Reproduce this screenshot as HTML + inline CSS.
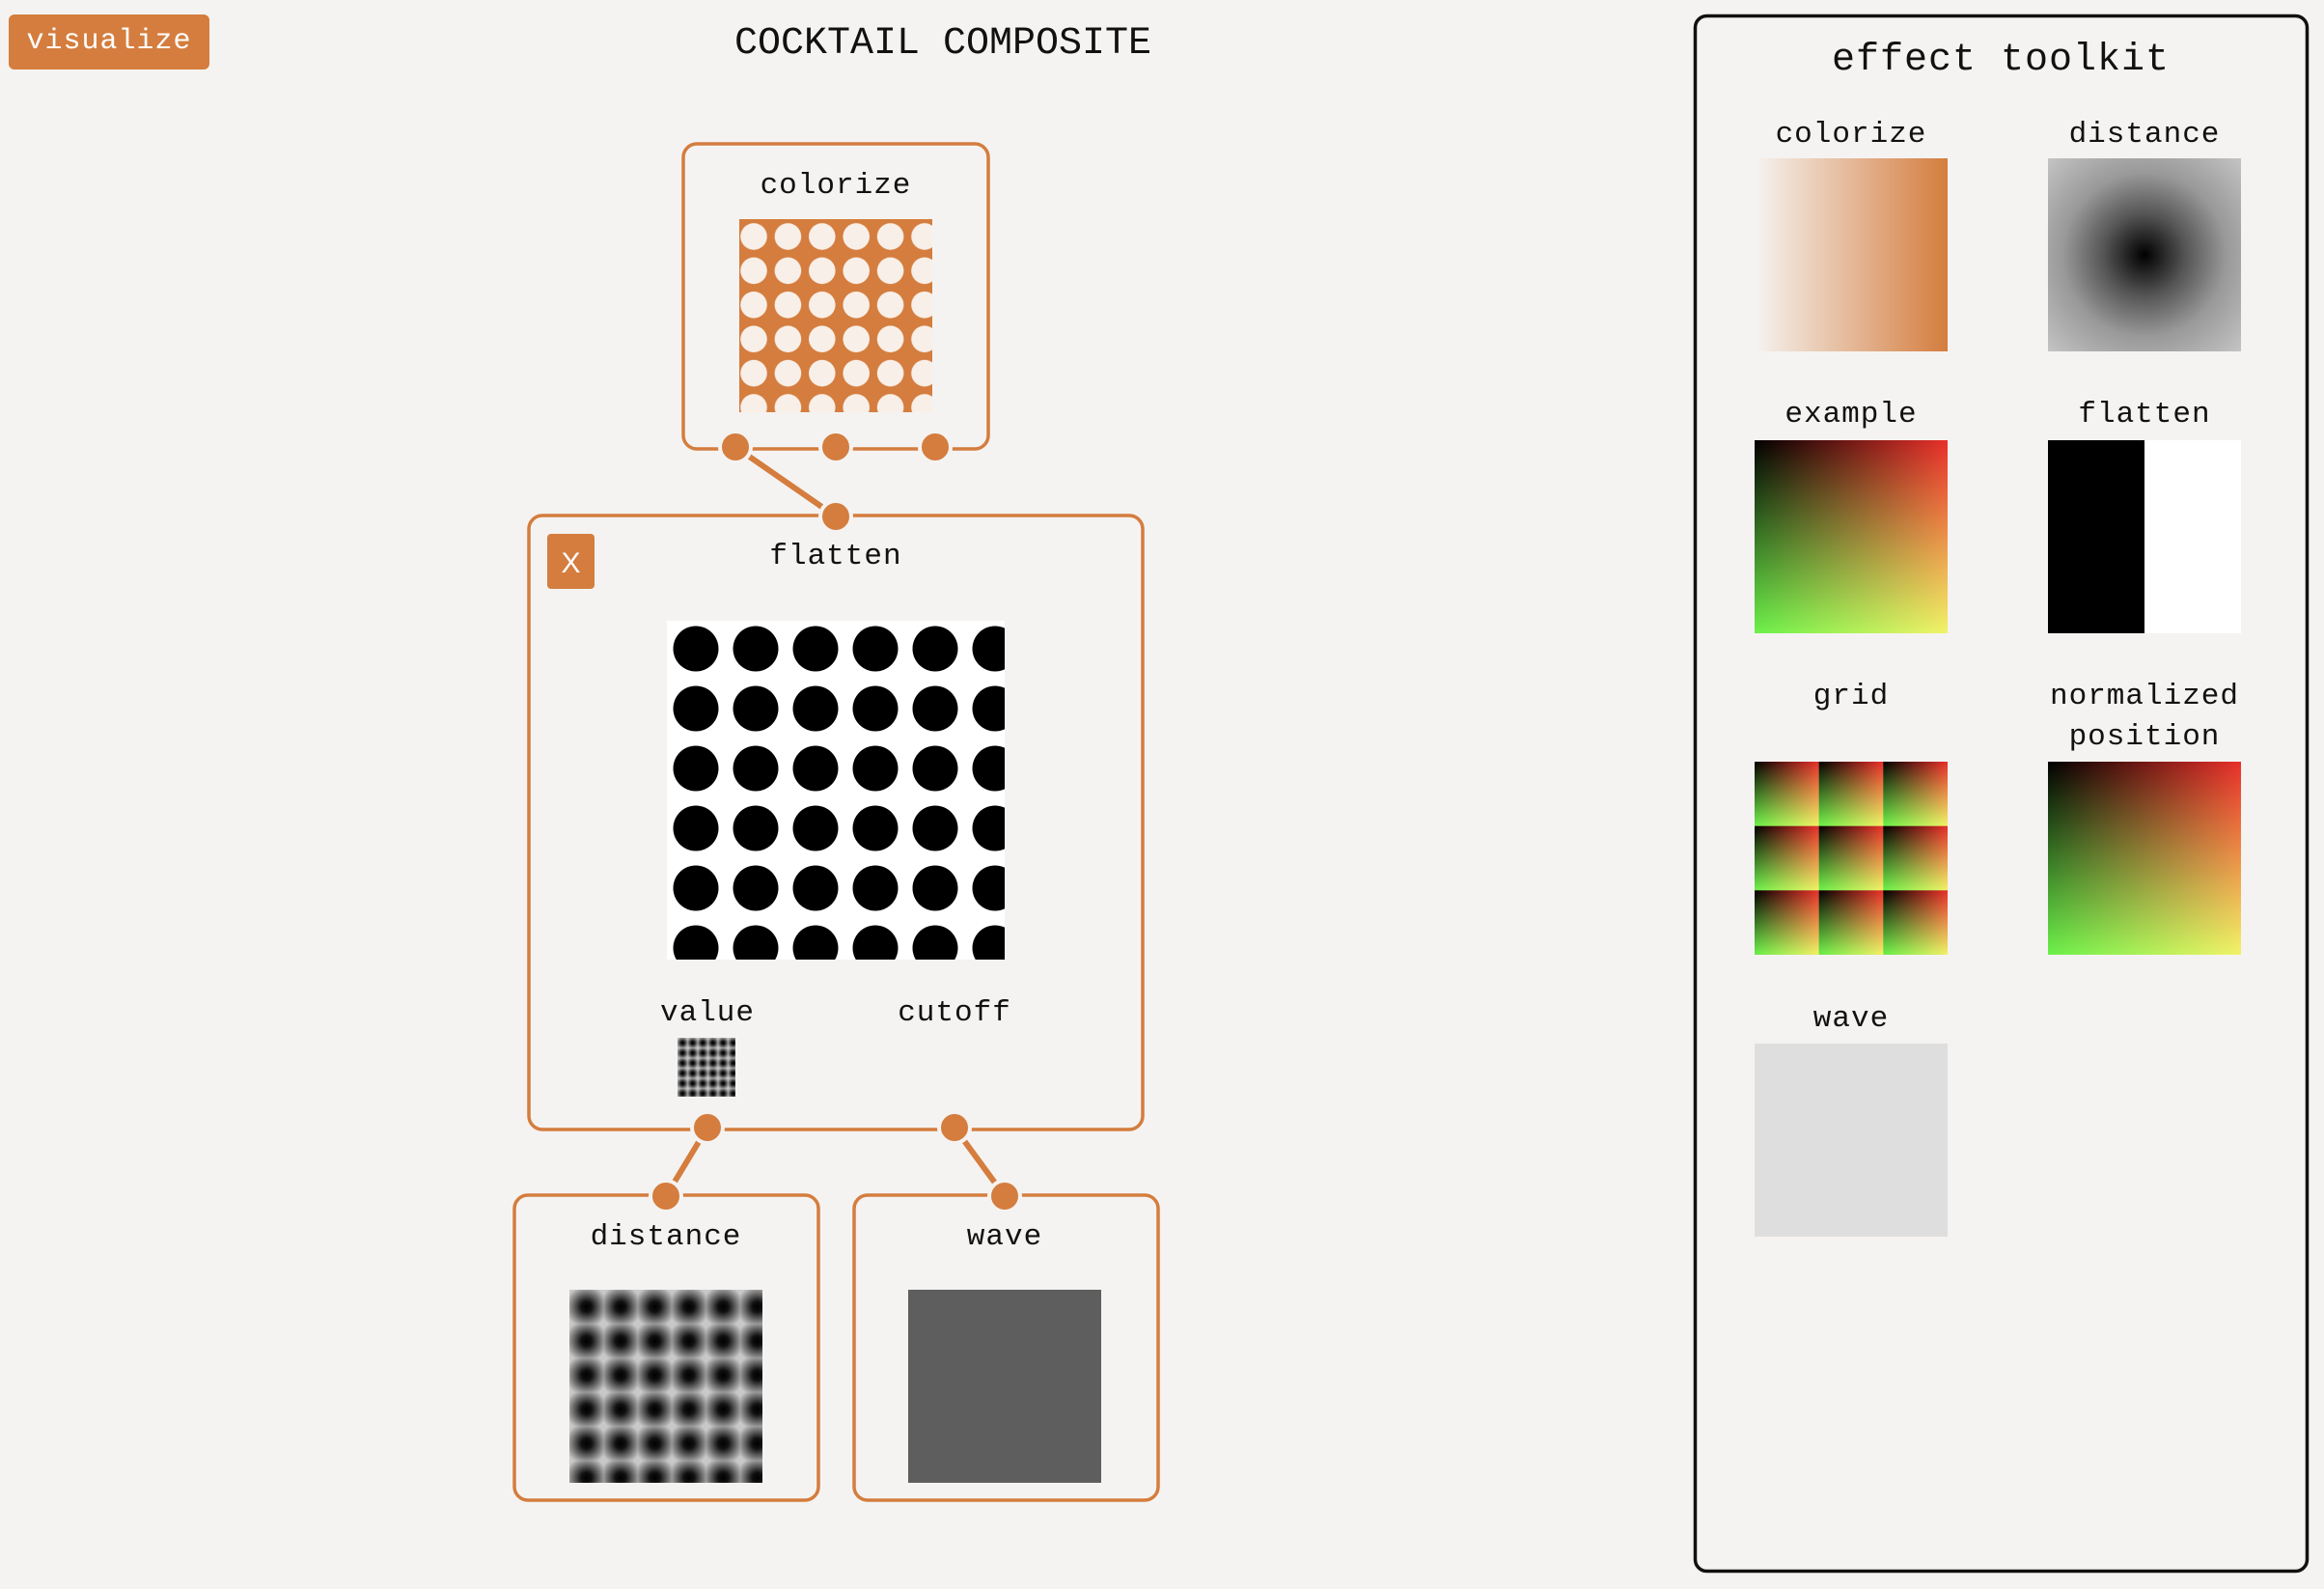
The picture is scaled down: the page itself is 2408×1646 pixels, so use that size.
<!DOCTYPE html>
<html><head><meta charset="utf-8"><style>
html,body{margin:0;padding:0;}
body{width:2408px;height:1646px;background:#f5f3f1;position:relative;overflow:hidden;font-family:"Liberation Mono","DejaVu Sans Mono",monospace;color:#111;}
.a{position:absolute;}
.lbl{position:absolute;font-size:31px;letter-spacing:1px;text-align:center;width:400px;margin-left:-200px;line-height:42px;}
.ex{background:linear-gradient(to right,#000,#e8302a),linear-gradient(to bottom,#000,#6cf04a);background-blend-mode:screen;}
</style></head><body>
<div class="a" style="left:9px;top:15px;width:208px;height:57px;background:#d47d3e;border-radius:6px;color:#fff;font-size:30px;line-height:57px;text-align:center;letter-spacing:1px;">visualize</div>
<div class="a" style="left:677px;top:21px;width:600px;text-align:center;font-size:40px;line-height:50px;">COCKTAIL COMPOSITE</div>

<svg class="a" style="left:0;top:0" width="2408" height="1646" viewBox="0 0 2408 1646">
<defs>
<pattern id="pc" patternUnits="userSpaceOnUse" x="763.3" y="227.3" width="35.4" height="35.4"><circle cx="17.7" cy="17.7" r="13.8" fill="#f8efe8"/></pattern>
<pattern id="pf" patternUnits="userSpaceOnUse" x="690" y="641" width="62" height="62"><circle cx="31" cy="31" r="23.5" fill="#000"/></pattern>
<radialGradient id="rg"><stop offset="0" stop-color="#000"/><stop offset="0.25" stop-color="#111"/><stop offset="1" stop-color="#c8c8c8"/></radialGradient>
<pattern id="pd" patternUnits="userSpaceOnUse" x="590" y="1336" width="35.4" height="35.4"><rect width="35.4" height="35.4" fill="#c8c8c8"/><circle cx="17.7" cy="17.7" r="22" fill="url(#rg)"/></pattern>
<pattern id="pv" patternUnits="userSpaceOnUse" x="702" y="1075" width="10.5" height="10.5"><rect width="10.5" height="10.5" fill="#bbb"/><circle cx="5.25" cy="5.25" r="6.5" fill="url(#rg)"/></pattern>
</defs>
<g fill="none" stroke="#d47d3e" stroke-width="3.5">
<rect x="708" y="149" width="316" height="316" rx="14"/>
<rect x="548" y="534" width="636" height="636" rx="14"/>
<rect x="533" y="1238" width="315" height="316" rx="14"/>
<rect x="885" y="1238" width="315" height="316" rx="14"/>
</g>
<g stroke="#d47d3e" stroke-width="6" stroke-linecap="round">
<line x1="762" y1="463" x2="866" y2="535"/>
<line x1="733" y1="1168" x2="690" y2="1239"/>
<line x1="989" y1="1168" x2="1041" y2="1239"/>
</g>
<g fill="#d47d3e" stroke="#f5f3f1" stroke-width="4">
<circle cx="762" cy="463" r="16"/><circle cx="866" cy="463" r="16"/><circle cx="969" cy="463" r="16"/>
<circle cx="866" cy="535" r="16"/>
<circle cx="733" cy="1168" r="16"/><circle cx="989" cy="1168" r="16"/>
<circle cx="690" cy="1239" r="16"/><circle cx="1041" cy="1239" r="16"/>
</g>
<rect x="766" y="227" width="200" height="200" fill="#d47d3e"/>
<rect x="766" y="227" width="200" height="200" fill="url(#pc)"/>
<rect x="691" y="643" width="350" height="351" fill="#fff"/>
<rect x="691" y="643" width="350" height="351" fill="url(#pf)"/>
<rect x="702" y="1075" width="60" height="61" fill="url(#pv)"/>
<rect x="590" y="1336" width="200" height="200" fill="url(#pd)"/>
<rect x="941" y="1336" width="200" height="200" fill="#5e5e5e"/>
<rect x="567" y="553" width="49" height="57" rx="4" fill="#d47d3e"/>
<text x="591.5" y="593" fill="#fff" font-family="Liberation Sans, sans-serif" font-size="30" text-anchor="middle">X</text>
<rect x="1756.5" y="16.5" width="634" height="1611" rx="12" fill="none" stroke="#111" stroke-width="3.5"/>
</svg>

<div class="lbl" style="left:866px;top:172px;">colorize</div>
<div class="lbl" style="left:866px;top:556px;">flatten</div>
<div class="lbl" style="left:733px;top:1029px;">value</div>
<div class="lbl" style="left:989px;top:1029px;">cutoff</div>
<div class="lbl" style="left:690px;top:1261px;">distance</div>
<div class="lbl" style="left:1041px;top:1261px;">wave</div>

<div class="lbl" style="left:2073px;top:38px;font-size:40px;line-height:50px;">effect toolkit</div>
<div class="lbl" style="left:1918px;top:119px;">colorize</div>
<div class="lbl" style="left:2222px;top:119px;">distance</div>
<div class="lbl" style="left:1918px;top:409px;">example</div>
<div class="lbl" style="left:2222px;top:409px;">flatten</div>
<div class="lbl" style="left:1918px;top:701px;">grid</div>
<div class="lbl" style="left:2222px;top:701px;">normalized<br>position</div>
<div class="lbl" style="left:1918px;top:1035px;">wave</div>

<div class="a" style="left:1818px;top:164px;width:200px;height:200px;background:linear-gradient(to right,#f5f3f1,#d47d3e);"></div>
<div class="a" style="left:2122px;top:164px;width:200px;height:200px;background:radial-gradient(circle at center,#000 0%,#555 30%,#999 60%,#c4c4c4 100%);"></div>
<div class="a ex" style="left:1818px;top:456px;width:200px;height:200px;"></div>
<div class="a" style="left:2122px;top:456px;width:100px;height:200px;background:#000;"></div>
<div class="a" style="left:2222px;top:456px;width:100px;height:200px;background:#fff;"></div>
<div class="a" style="left:1818px;top:789px;width:200px;height:200px;background:linear-gradient(to right,#000,#e8302a),linear-gradient(to bottom,#000,#6cf04a);background-size:66.67px 66.67px;background-blend-mode:screen;"></div>
<div class="a ex" style="left:2122px;top:789px;width:200px;height:200px;"></div>
<div class="a" style="left:1818px;top:1081px;width:200px;height:200px;background:#dedede;"></div>
</body></html>
